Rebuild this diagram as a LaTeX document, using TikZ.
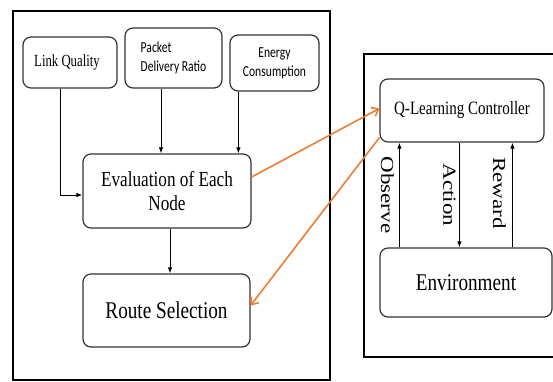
\documentclass[tikz,border=0pt]{standalone}
\usepackage{fontspec}
\setmainfont{Liberation Serif}
\newfontfamily\tnr[FakeStretch=0.8]{Liberation Serif}
\newfontfamily\tnrn[FakeStretch=0.75]{Liberation Serif}
\newfontfamily\calib[FakeStretch=0.76]{Carlito}
\usetikzlibrary{arrows.meta}
\definecolor{qorange}{RGB}{237,125,49}

\begin{document}
\begin{tikzpicture}[x=1pt, y=-1pt,
	box/.style={draw=black!80, line width=1.2pt, rounded corners=8pt, inner sep=0pt, align=center, text=black},
	lbl/.style={rotate=-90, inner sep=0pt, text=black, font=\fontsize{23}{26}\selectfont},
	orng/.style={draw=qorange, line width=1.6pt, -{Straight Barb[length=6pt,width=10pt]}},
	>={Latex[length=6pt,width=4.5pt]}]
	\useasboundingbox (0,0) rectangle (553,381);
	% frames
	\draw[line width=2.2pt] (13,11) rectangle (330,380);
	\draw[line width=1.3pt] (364,54) rectangle (560,357);
	% left part
	\node[box, minimum width=94, minimum height=51, font=\tnrn\fontsize{17}{19}\selectfont] (lq) at (70,62.5) {\hspace*{-6pt}Link Quality};
	\node[box, minimum width=97, minimum height=60, align=left, font=\calib\fontsize{15.3}{19}\selectfont] (pdr) at (173.5,58) {Packet\\Delivery Ratio};
	\node[box, minimum width=89, minimum height=56, font=\calib\fontsize{15.3}{19}\selectfont] (ec) at (274.5,63) {Energy\\Consumption};
	\node[box, minimum width=168, minimum height=74, font=\tnr\fontsize{21.5}{24}\selectfont] (eval) at (167,191) {Evaluation of Each\\Node};
	\node[box, minimum width=167, minimum height=73, font=\tnr\fontsize{24}{26}\selectfont] (route) at (166.5,310.5) {Route Selection};
	\draw[->, line width=0.9pt] ([xshift=-10pt]lq.south) |- ([yshift=-4pt]eval.west);
	\draw[->, line width=0.9pt] ([xshift=-12.5pt]pdr.south) -- ([xshift=-12.5pt]pdr.south |- eval.north);
	\draw[->, line width=0.9pt] ([xshift=9pt]ec.south west) -- ([xshift=9pt]ec.south west |- eval.north);
	\draw[->, line width=0.9pt] ([xshift=3pt]eval.south) -- ([xshift=3pt]eval.south |- route.north);
	% right part
	\node[box, minimum width=164, minimum height=63, font=\tnr\fontsize{18.8}{22}\selectfont] (qlc) at (462,110.5) {Q-Learning Controller};
	\node[box, minimum width=172, minimum height=69, font=\tnr\fontsize{24}{26}\selectfont] (env) at (466,282.5) {Environment};
	\draw[->, line width=0.9pt] ([xshift=20pt]env.north west) -- ([xshift=20pt]env.north west |- qlc.south)
		node[midway, xshift=-12pt, lbl] {\scalebox{1}[0.8]{Observe}};
	\draw[->, line width=0.9pt] ([xshift=80pt]qlc.south west) -- ([xshift=80pt]qlc.south west |- env.north)
		node[midway, xshift=-10pt, lbl] {\scalebox{1}[0.8]{Action}};
	\draw[->, line width=0.9pt] ([xshift=133pt]env.north west) -- ([xshift=133pt]env.north west |- qlc.south)
		node[midway, xshift=-13pt, yshift=2pt, lbl] {\scalebox{1}[0.8]{Reward}};
	% links between parts
	\draw[orng] ([yshift=14pt]eval.east) -- ([yshift=2pt]qlc.west);
	\draw[orng] ([yshift=5pt]qlc.south west) -- ([yshift=5pt]route.east);
\end{tikzpicture}
\end{document}
